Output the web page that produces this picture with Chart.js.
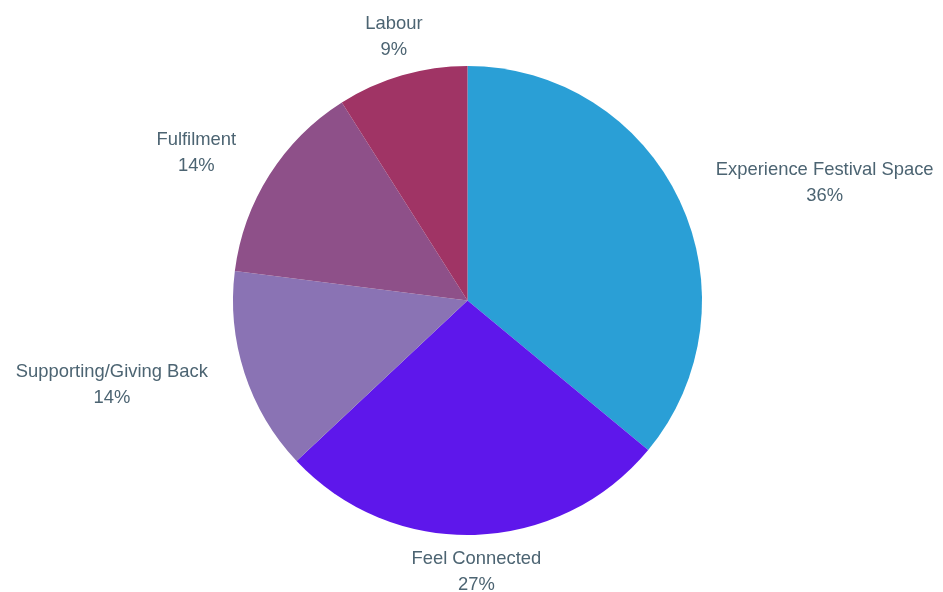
<!DOCTYPE html>
<html>
<head>
<meta charset="utf-8">
<script src="https://cdn.jsdelivr.net/npm/chart.js@4"></script>
<style>
  html, body { margin: 0; padding: 0; background: #fff; }
  #wrap { width: 943px; height: 592px; }
</style>
</head>
<body>
<div id="wrap"><canvas id="pie" width="943" height="592"></canvas></div>
<script>
const categories = ['Experience Festival Space', 'Feel Connected', 'Supporting/Giving Back', 'Fulfilment', 'Labour'];
const shares = [36, 27, 14, 14, 9];
const sliceColors = ['#2A9FD6', '#5E17EB', '#8A73B4', '#8E5089', '#A03465'];

// draws the two-line "name / percent" labels outside each slice
const outerLabels = {
  id: 'outerLabels',
  afterDraw(chart) {
    const ctx = chart.ctx;
    const meta = chart.getDatasetMeta(0);
    const total = shares.reduce((a, b) => a + b, 0);
    const lineGap = 26;
    const capHalf = 6.6;

    ctx.save();
    ctx.font = '18.4px "Liberation Sans", Arial, sans-serif';
    ctx.fillStyle = '#4C6472';
    ctx.textAlign = 'center';
    ctx.textBaseline = 'alphabetic';

    meta.data.forEach((arc, i) => {
      const p = arc.getProps(['x', 'y', 'startAngle', 'endAngle', 'outerRadius'], true);
      const mid = (p.startAngle + p.endAngle) / 2;
      const cos = Math.cos(mid), sin = Math.sin(mid);
      const lines = [categories[i], Math.round(shares[i] / total * 100) + '%'];
      const w = Math.max(...lines.map(t => ctx.measureText(t).width));

      let cx, y1;
      if (Math.abs(cos) > 0.5) {
        const ax = p.x + (p.outerRadius + 30) * cos;
        cx = cos > 0 ? ax + 9 + w / 2 : ax - 8 - w / 2;
        y1 = p.y + (p.outerRadius + 40) * sin - 2 - lineGap / 2;
      } else {
        const ax = p.x + (p.outerRadius + 15) * cos;
        const ay = p.y + (p.outerRadius + 15) * sin;
        cx = ax + cos * w / 4;
        y1 = sin < 0 ? ay - 13 - lineGap : ay + 8;
      }
      lines.forEach((t, k) => ctx.fillText(t, cx, y1 + k * lineGap + capHalf));
    });
    ctx.restore();
  }
};

new Chart(document.getElementById('pie'), {
  type: 'pie',
  data: {
    labels: categories,
    datasets: [{
      data: shares,
      backgroundColor: sliceColors,
      borderWidth: 0
    }]
  },
  options: {
    responsive: false,
    animation: false,
    layout: { padding: { top: 66, bottom: 57, left: 0, right: 8 } },
    plugins: {
      legend: { display: false },
      tooltip: { enabled: false }
    }
  },
  plugins: [outerLabels]
});
</script>
</body>
</html>
